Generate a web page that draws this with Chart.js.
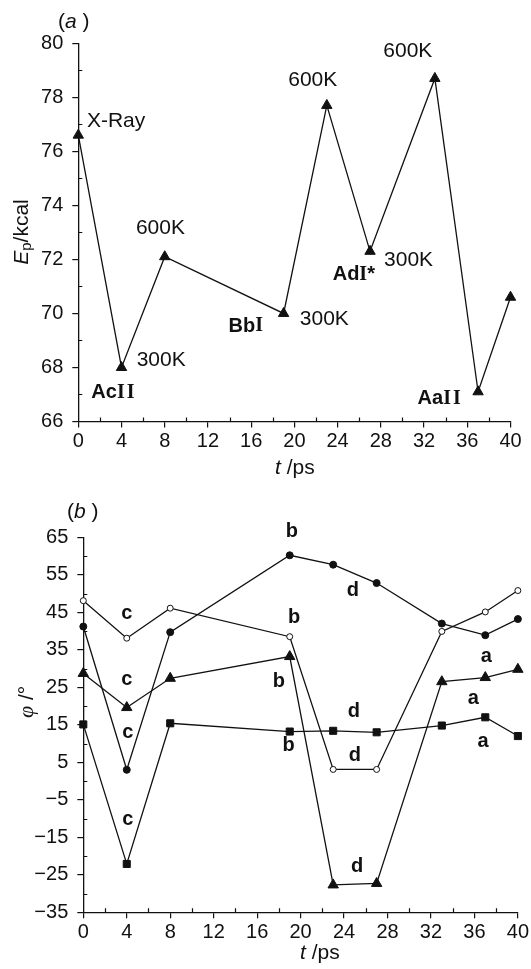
<!DOCTYPE html>
<html>
<head>
<meta charset="utf-8">
<script src="https://cdn.jsdelivr.net/npm/chart.js@4.4.1/dist/chart.umd.min.js"></script>
<style>
  html, body { margin: 0; padding: 0; background: #fff; }
  #wrap { position: relative; width: 531px; height: 969px; overflow: hidden; }
  canvas { position: absolute; left: 0; }
  #cA { top: 0; }
  #cB { top: 480px; }
</style>
</head>
<body>
<div id="wrap">
  <canvas id="cA" width="531" height="480"></canvas>
  <canvas id="cB" width="531" height="489"></canvas>
</div>
<script>
// ---- data ----
const times = [0, 4, 8, 19, 23, 27, 33, 37, 40];

// (a) potential energy along the trajectory
const energy = [76.6, 68.0, 72.1, 70.0, 77.7, 72.3, 78.7, 67.1, 70.6];
const energyTicks = [66, 68, 70, 72, 74, 76, 78, 80];
const energyMinor = [67, 69, 71, 73, 75, 77, 79];

// (b) torsion angles
const phiOpen   = [48.1, 38.1, 46.1, 38.5, 3.1, 3.1, 39.9, 45.1, 50.8];
const phiDot    = [41.2, 3.0, 39.7, 60.2, 57.7, 52.8, 42.0, 38.9, 43.2];
const phiTri    = [28.7, 19.6, 27.4, 33.2, -27.7, -27.3, 26.5, 27.6, 29.8];
const phiSquare = [15.1, -22.1, 15.4, 13.2, 13.4, 13.0, 14.8, 17.0, 12.0];
const phiTicks = [-35, -25, -15, -5, 5, 15, 25, 35, 45, 55, 65];
const phiMinor = [-30, -20, -10, 0, 10, 20, 30, 40, 50, 60];

const timeTicks = [0, 4, 8, 12, 16, 20, 24, 28, 32, 36, 40];
const timeMinor = [2, 6, 10, 14, 18, 22, 26, 30, 34, 38];

// text annotations anchored in data coordinates
const notesA = [
  { segs: [['X-Ray', 'n']], t: 0.8, v: 77.1, align: 'left' },
  { segs: [['600K', 'n']], t: 7.6, v: 73.15, align: 'center' },
  { segs: [['300K', 'n']], t: 5.4, v: 68.27, align: 'left' },
  { segs: [['Ac', 'b'], ['I', 'r', 2], ['I', 'r']], t: 3.2, v: 67.07, align: 'center' },
  { segs: [['Bb', 'b'], ['I', 'r']], t: 15.5, v: 69.53, align: 'center' },
  { segs: [['300K', 'n']], t: 20.5, v: 69.8, align: 'left' },
  { segs: [['600K', 'n']], t: 21.7, v: 78.64, align: 'center' },
  { segs: [['Ad', 'b'], ['I', 'r'], ['*', 'b']], t: 25.5, v: 71.44, align: 'center' },
  { segs: [['300K', 'n']], t: 28.3, v: 71.97, align: 'left' },
  { segs: [['600K', 'n']], t: 30.5, v: 79.69, align: 'center' },
  { segs: [['Aa', 'b'], ['I', 'r', 2], ['I', 'r']], t: 33.4, v: 66.85, align: 'center' }
];

const notesB = [
  ['c', 4.0, 44.7], ['c', 4.0, 27.0], ['c', 4.1, 13.0], ['c', 4.1, -10.3],
  ['b', 19.2, 66.5], ['b', 19.4, 43.7], ['b', 18.0, 26.5], ['b', 18.9, 9.6],
  ['d', 24.8, 50.9], ['d', 24.9, 18.5], ['d', 25.0, 6.9], ['d', 25.2, -22.8],
  ['a', 37.1, 33.3], ['a', 35.9, 21.9], ['a', 36.8, 10.5]
];

// ---- drawing helpers ----
const INK = '#111';
const FONTS = {
  n: '21px "Liberation Sans"',
  i: 'italic 21px "Liberation Sans"',
  b: 'bold 20px "Liberation Sans"',
  r: 'bold 20px "Liberation Serif"',
  s: '15px "Liberation Sans"',
  g: 'italic 22px "Liberation Serif"'
};

// draws a run of differently styled pieces: [text, fontKey, gapAfter, dy]
function rich(ctx, segs, x, y, align, rot) {
  ctx.save();
  ctx.translate(x, y);
  if (rot) ctx.rotate(rot);
  ctx.fillStyle = INK;
  ctx.textBaseline = 'middle';
  ctx.textAlign = 'left';
  let total = 0;
  const widths = segs.map(s => {
    ctx.font = FONTS[s[1]];
    const w = ctx.measureText(s[0]).width;
    total += w + (s[2] || 0);
    return w;
  });
  let cx = align === 'left' ? 0 : align === 'right' ? -total : -total / 2;
  segs.forEach((s, k) => {
    ctx.font = FONTS[s[1]];
    ctx.fillText(s[0], cx, s[3] || 0);
    cx += widths[k] + (s[2] || 0);
  });
  ctx.restore();
}

// short inward ticks between the labelled ones
function minorTicks(chart, xs, ys) {
  const ctx = chart.ctx, sx = chart.scales.x, sy = chart.scales.y;
  const area = chart.chartArea;
  ctx.save();
  ctx.strokeStyle = INK;
  ctx.lineWidth = 1.2;
  ctx.beginPath();
  xs.forEach(v => {
    const px = Math.round(sx.getPixelForValue(v)) + 0.5;
    ctx.moveTo(px, area.bottom);
    ctx.lineTo(px, area.bottom - 4);
  });
  ys.forEach(v => {
    const py = Math.round(sy.getPixelForValue(v)) + 0.5;
    ctx.moveTo(area.left, py);
    ctx.lineTo(area.left + 4, py);
  });
  ctx.stroke();
  ctx.restore();
}

function axisCfg(min, max, ticks, fitKey, fitVal) {
  const cfg = {
    type: 'linear',
    min: min,
    max: max,
    afterBuildTicks: s => { s.ticks = ticks.map(v => ({ value: v })); },
    ticks: {
      color: INK,
      font: { family: '"Liberation Sans"', size: 20 },
      padding: fitKey === 'width' ? 9 : 2,
      autoSkip: false,
      maxRotation: 0,
      callback: v => String(v).replace('-', '\u2212')
    },
    grid: { display: true, drawOnChartArea: false, drawTicks: true, tickLength: 6, color: INK, lineWidth: 1.2 },
    border: { display: true, color: INK, width: 1.3 },
    afterFit: s => { s[fitKey] = fitVal; }
  };
  return cfg;
}

function lineSet(values, style, radius, fill) {
  return {
    data: times.map((t, k) => ({ x: t, y: values[k] })),
    borderColor: INK,
    borderWidth: 1.3,
    pointStyle: style,
    pointRadius: radius,
    pointBackgroundColor: fill,
    pointBorderColor: INK,
    pointBorderWidth: 1,
    tension: 0,
    clip: false
  };
}

Chart.defaults.animation = false;
Chart.defaults.responsive = false;
Chart.defaults.devicePixelRatio = 1;

// ---- (a) energy ----
new Chart(document.getElementById('cA'), {
  type: 'line',
  data: { datasets: [lineSet(energy, 'triangle', 6, INK)] },
  options: {
    layout: { padding: { left: 0, right: 20.5, top: 43.3, bottom: 0 } },
    plugins: { legend: { display: false }, tooltip: { enabled: false } },
    scales: {
      x: axisCfg(0, 40, timeTicks, 'height', 58.5),
      y: axisCfg(66, 80, energyTicks, 'width', 78.3)
    }
  },
  plugins: [{
    id: 'notesA',
    afterDraw(chart) {
      const ctx = chart.ctx, sx = chart.scales.x, sy = chart.scales.y;
      minorTicks(chart, timeMinor, energyMinor);
      notesA.forEach(n => rich(ctx, n.segs, sx.getPixelForValue(n.t), sy.getPixelForValue(n.v), n.align));
      rich(ctx, [['(', 'n'], ['a', 'i'], [' )', 'n']], 58, 22, 'left');
      rich(ctx, [['t', 'i'], [' /ps', 'n']], 275, 468, 'left');
      rich(ctx, [['E', 'i'], ['p', 's', 0, 5], ['/kcal', 'n']], 22, 232, 'center', -Math.PI / 2);
    }
  }]
});

// ---- (b) torsion angles ----
new Chart(document.getElementById('cB'), {
  type: 'line',
  data: {
    datasets: [
      lineSet(phiOpen, 'circle', 3, '#fff'),
      lineSet(phiDot, 'circle', 3.5, INK),
      lineSet(phiTri, 'triangle', 6, INK),
      lineSet(phiSquare, 'rect', 5, INK)
    ]
  },
  options: {
    layout: { padding: { left: 0, right: 11.7, top: 57.3, bottom: 0 } },
    plugins: { legend: { display: false }, tooltip: { enabled: false } },
    scales: {
      x: axisCfg(0, 40, timeTicks, 'height', 56.7),
      y: axisCfg(-35, 65, phiTicks, 'width', 83.3)
    }
  },
  plugins: [{
    id: 'notesB',
    afterDraw(chart) {
      const ctx = chart.ctx, sx = chart.scales.x, sy = chart.scales.y;
      minorTicks(chart, timeMinor, phiMinor);
      notesB.forEach(n => rich(ctx, [[n[0], 'b']], sx.getPixelForValue(n[1]), sy.getPixelForValue(n[2]), 'center'));
      rich(ctx, [['(', 'n'], ['b', 'i'], [' )', 'n']], 67, 32, 'left');
      rich(ctx, [['t', 'i'], [' /ps', 'n']], 300, 473, 'left');
      rich(ctx, [['\u03C6', 'g'], [' /\u00B0', 'n']], 27, 222, 'center', -Math.PI / 2);
    }
  }]
});
</script>
</body>
</html>
